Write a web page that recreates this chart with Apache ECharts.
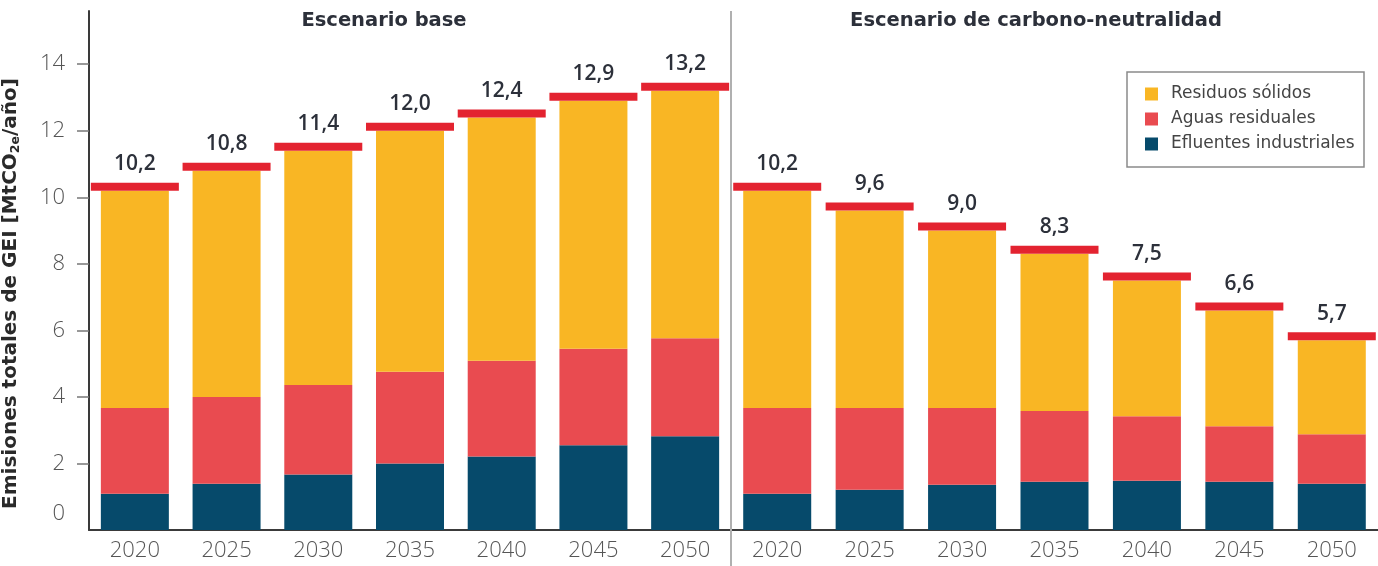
<!DOCTYPE html>
<html>
<head>
<meta charset="utf-8">
<script src="https://cdn.jsdelivr.net/npm/echarts@6/dist/echarts.min.js"></script>
<style>
  html, body { margin: 0; padding: 0; background: #fff; }
  #chart { width: 1378px; height: 566px; }
</style>
</head>
<body>
<div id="chart"></div>
<script>
// Categories and tick labels
const years = ['2020', '2025', '2030', '2035', '2040', '2045', '2050'];
const yTicks = [0, 2, 4, 6, 8, 10, 12, 14];
const panelTitles = ['Escenario base', 'Escenario de carbono-neutralidad'];
const seriesNames = ['Residuos sólidos', 'Aguas residuales', 'Efluentes industriales'];

// Escenario base (MtCO2e/año)
const baseTotal      = [10.2, 10.8, 11.4, 12.0, 12.4, 12.9, 13.2];
const baseEfluentes  = [1.09, 1.39, 1.67, 2.00, 2.21, 2.55, 2.82];
const baseAguas      = [2.58, 2.61, 2.69, 2.76, 2.88, 2.90, 2.94];
const baseResiduos   = [6.53, 6.80, 7.04, 7.24, 7.31, 7.45, 7.44];

// Escenario de carbono-neutralidad (MtCO2e/año)
const netTotal       = [10.2, 9.6, 9.0, 8.3, 7.5, 6.6, 5.7];
const netEfluentes   = [1.09, 1.21, 1.36, 1.45, 1.48, 1.45, 1.39];
const netAguas       = [2.58, 2.46, 2.31, 2.13, 1.94, 1.67, 1.49];
const netResiduos    = [6.53, 5.93, 5.33, 4.72, 4.08, 3.48, 2.82];

const C_RES = '#f9b624';
const C_AGU = '#e94b50';
const C_EFL = '#064a6b';
const C_TOT = '#e32330';
const TXT_DARK = '#2c303a';
const TXT_GREY = '#555555';
const FONT = '"Open Sans", "Noto Sans", sans-serif';
const WIDE = '"DejaVu Sans", "Open Sans", sans-serif';

// Layout
const PLOT_TOP = 11, PLOT_BOTTOM_Y = 530, AXIS_X = 86, SPLIT_X = 731, H = 566;
const Y_MAX = 15.6;

const fmt = v => v.toFixed(1).replace('.', ',');

function panelSeries(gridIdx, stack, efl, agu, res, tot) {
  const bar = (name, data, color) => ({
    name, type: 'bar', stack, data,
    xAxisIndex: gridIdx, yAxisIndex: gridIdx,
    barWidth: 68,
    itemStyle: { color, opacity: 1 },
    emphasis: { disabled: true },
    z: 2
  });
  return [
    bar(seriesNames[2], efl, C_EFL),
    bar(seriesNames[1], agu, C_AGU),
    bar(seriesNames[0], res, C_RES),
    {
      name: 'Total', type: 'scatter', data: tot,
      xAxisIndex: gridIdx, yAxisIndex: gridIdx,
      symbol: 'rect', symbolSize: [88, 8], symbolOffset: [0, '-50%'],
      itemStyle: { color: C_TOT, opacity: 1 },
      emphasis: { disabled: true },
      z: 5,
      label: {
        show: true, position: 'top', distance: 8,
        formatter: p => fmt(p.value),
        fontFamily: FONT, fontSize: 21, fontWeight: 600, color: TXT_DARK
      }
    }
  ];
}

const xAxisCommon = {
  type: 'category', data: years,
  axisLine: { show: true, lineStyle: { color: '#3a3a3a', width: 2 } },
  axisTick: { show: false },
  axisLabel: { fontFamily: FONT, fontSize: 22, fontWeight: 300, color: TXT_GREY, margin: 10 }
};

const chart = echarts.init(document.getElementById('chart'), null, { renderer: 'canvas' });

chart.setOption({
  animation: false,
  backgroundColor: '#fff',
  grid: [
    { left: AXIS_X, width: SPLIT_X - AXIS_X, top: PLOT_TOP, bottom: H - PLOT_BOTTOM_Y },
    { left: SPLIT_X, right: 0, top: PLOT_TOP, bottom: H - PLOT_BOTTOM_Y }
  ],
  xAxis: [
    Object.assign({ gridIndex: 0 }, xAxisCommon),
    Object.assign({ gridIndex: 1 }, xAxisCommon)
  ],
  yAxis: [
    {
      gridIndex: 0, type: 'value', min: 0, max: Y_MAX,
      name: 'Emisiones totales de GEI [MtCO{sub|2e}/año]',
      nameLocation: 'middle', nameGap: 67, nameRotate: 90,
      nameTextStyle: {
        fontFamily: WIDE, fontSize: 20, fontWeight: 'bold', color: '#2a2a2a',
        padding: [0, 46, 0, 0],
        rich: {
          sub: { fontFamily: WIDE, fontSize: 12.5, fontWeight: 'bold', color: '#2a2a2a', padding: [9, 0, 0, 0] }
        }
      },
      axisLine: { show: true, lineStyle: { color: '#3a3a3a', width: 2 } },
      axisTick: { show: true, length: 12, customValues: yTicks.slice(1), lineStyle: { color: '#777', width: 1.5 } },
      axisLabel: {
        customValues: yTicks, margin: 24,
        fontFamily: FONT, fontSize: 22, fontWeight: 300, color: TXT_GREY,
        formatter: v => v === 0 ? '{z|0}' : String(v),
        rich: { z: { fontFamily: FONT, fontSize: 22, fontWeight: 300, color: TXT_GREY, padding: [0, 0, 32, 0] } }
      },
      splitLine: { show: false }
    },
    {
      gridIndex: 1, type: 'value', min: 0, max: Y_MAX,
      axisLine: { show: false }, axisTick: { show: false },
      axisLabel: { show: false }, splitLine: { show: false }
    }
  ],
  legend: {
    orient: 'vertical', left: 1145, top: 84, padding: 0,
    itemWidth: 13, itemHeight: 13, itemGap: 5, icon: 'rect',
    data: seriesNames,
    selectedMode: false,
    textStyle: { fontFamily: WIDE, fontSize: 17, color: '#444', lineHeight: 20, padding: [0, 0, 0, 8] }
  },
  graphic: [
    { type: 'line', shape: { x1: SPLIT_X, y1: PLOT_TOP, x2: SPLIT_X, y2: H }, style: { stroke: '#b0b0b0', lineWidth: 2 }, z: 1 },
    { type: 'rect', shape: { x: 1127, y: 72, width: 237, height: 95 }, style: { fill: 'none', stroke: '#8a8a8a', lineWidth: 1.5 }, z: 1 },
    { type: 'text', x: 384, y: 21, style: { text: panelTitles[0], font: 'bold 19.5px ' + WIDE, fill: TXT_DARK, textAlign: 'center', textVerticalAlign: 'middle' } },
    { type: 'text', x: 1036, y: 21, style: { text: panelTitles[1], font: 'bold 19.5px ' + WIDE, fill: TXT_DARK, textAlign: 'center', textVerticalAlign: 'middle' } }
  ],
  series: [].concat(
    panelSeries(0, 'base', baseEfluentes, baseAguas, baseResiduos, baseTotal),
    panelSeries(1, 'net', netEfluentes, netAguas, netResiduos, netTotal)
  )
});
</script>
</body>
</html>
